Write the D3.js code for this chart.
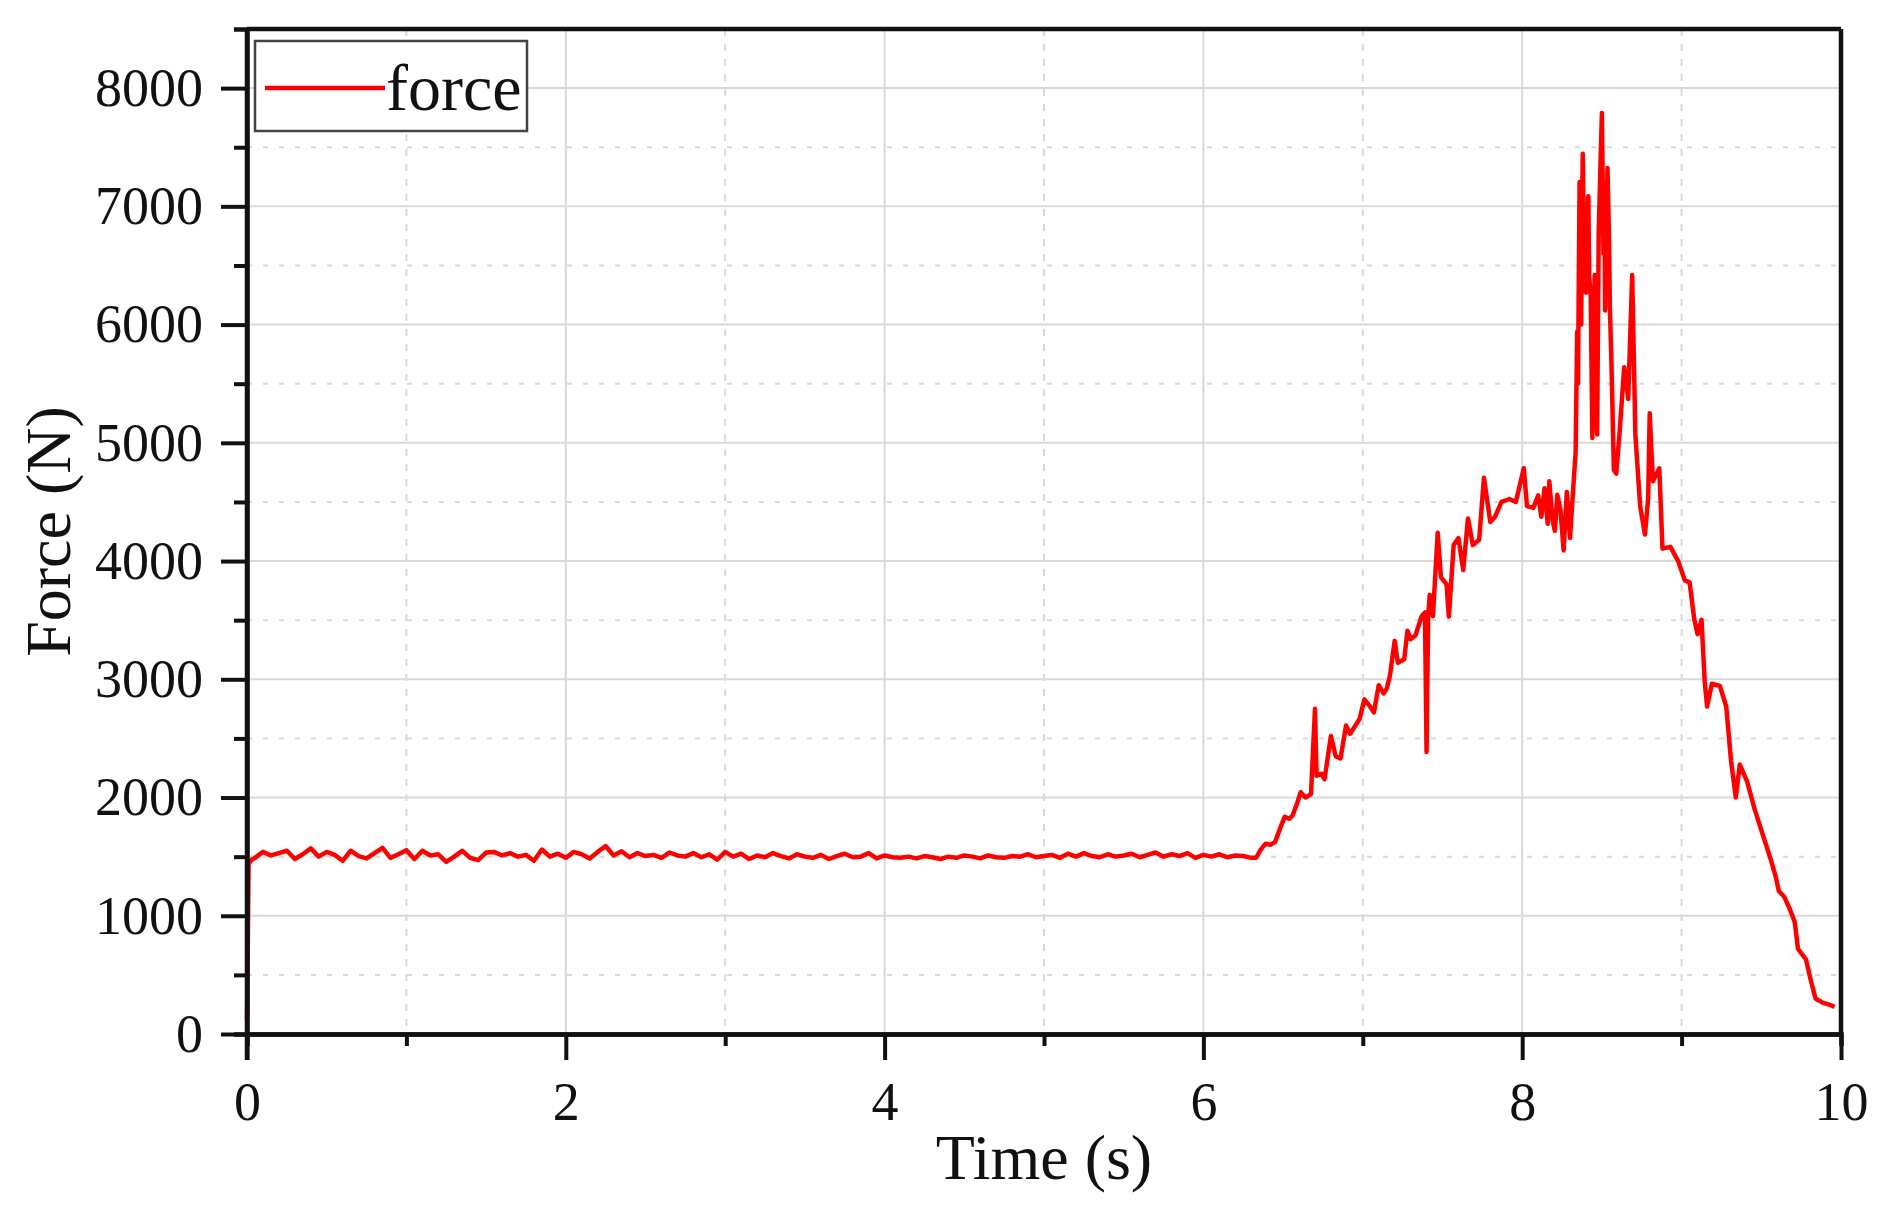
<!DOCTYPE html>
<html>
<head>
<meta charset="utf-8">
<script src="https://cdn.jsdelivr.net/npm/d3@7"></script>
<style>
  body { margin: 0; background: #fff; }
  svg text { font-family: "Liberation Serif", "Times New Roman", serif; fill: #111; }
</style>
</head>
<body>
<svg id="chart" width="1892" height="1214"></svg>
<script>
// time axis / force axis ticks
const xTicks = [0, 2, 4, 6, 8, 10]
const xMinor = [1, 3, 5, 7, 9]
const yTicks = [0, 1000, 2000, 3000, 4000, 5000, 6000, 7000, 8000]
const yMinor = [500, 1500, 2500, 3500, 4500, 5500, 6500, 7500]

// start of the record (t, F)
const startPts = [[0, 120], [0.01, 1440], [0.03, 1475]]

// steady part, one value every 0.05 s from 0.05 s to 6.30 s
const plateauT0 = 0.05
const plateauStep = 0.05
const plateauForce = [
  1490, 1540, 1510, 1530, 1550, 1480, 1520, 1570, 1500, 1540,
  1515, 1465, 1550, 1505, 1485, 1530, 1575, 1490, 1520, 1555,
  1480, 1550, 1510, 1520, 1455, 1500, 1550, 1490, 1470, 1535,
  1540, 1510, 1530, 1500, 1515, 1465, 1560, 1500, 1525, 1490,
  1540, 1520, 1485, 1540, 1590, 1510, 1545, 1495, 1530, 1505,
  1515, 1490, 1535, 1510, 1500, 1530, 1495, 1520, 1475, 1540,
  1500, 1525, 1480, 1510, 1495, 1530, 1505, 1485, 1520, 1500,
  1490, 1515, 1480, 1505, 1525, 1495, 1500, 1530, 1485, 1510,
  1495, 1490, 1500, 1485, 1505, 1495, 1480, 1500, 1490, 1510,
  1500, 1485, 1510, 1495, 1490, 1505, 1500, 1520, 1495, 1505,
  1515, 1490, 1525, 1500, 1530, 1505, 1495, 1520, 1500, 1510,
  1525, 1495, 1515, 1535, 1500, 1520, 1505, 1530, 1490, 1515,
  1500, 1520, 1495, 1510, 1505, 1490
]

// rise, peak and drop (t, F)
const risePts = [
  [6.33, 1490], [6.36, 1560], [6.39, 1610], [6.42, 1600], [6.45, 1625], [6.48, 1735],
  [6.51, 1836], [6.54, 1820], [6.56, 1850], [6.59, 1960], [6.61, 2045], [6.64, 2000],
  [6.675, 2030], [6.70, 2750], [6.71, 2185], [6.74, 2200], [6.76, 2155], [6.80, 2520],
  [6.83, 2350], [6.86, 2330], [6.895, 2610], [6.92, 2540], [6.94, 2580], [6.98, 2665],
  [7.01, 2830], [7.04, 2780], [7.07, 2720], [7.10, 2950], [7.13, 2880], [7.15, 2920],
  [7.17, 3030], [7.20, 3325], [7.22, 3140], [7.26, 3170], [7.28, 3410], [7.30, 3340],
  [7.33, 3370], [7.37, 3535], [7.39, 3565], [7.40, 2385], [7.41, 3535], [7.42, 3714],
  [7.44, 3534], [7.47, 4240], [7.49, 3865], [7.525, 3805], [7.54, 3530], [7.57, 4135],
  [7.60, 4195], [7.63, 3925], [7.66, 4360], [7.69, 4135], [7.73, 4180], [7.76, 4705],
  [7.80, 4330], [7.83, 4375], [7.87, 4500], [7.92, 4525], [7.96, 4500]
]
const peakPts = [
  [8.01, 4785], [8.03, 4465], [8.07, 4450], [8.10, 4555], [8.12, 4375], [8.14, 4615],
  [8.16, 4315], [8.17, 4675], [8.19, 4350], [8.205, 4255], [8.22, 4560], [8.24, 4435],
  [8.26, 4090], [8.28, 4585], [8.30, 4195], [8.32, 4615], [8.335, 4915], [8.345, 5940],
  [8.35, 5500], [8.36, 7205], [8.365, 6300], [8.37, 6000], [8.375, 6900], [8.38, 7445],
  [8.39, 6500], [8.40, 6270], [8.405, 6800], [8.415, 7085], [8.42, 6400], [8.43, 6240],
  [8.44, 5040], [8.445, 5900], [8.455, 6420], [8.46, 5600], [8.47, 5070], [8.48, 6780],
  [8.49, 7300], [8.50, 7790], [8.51, 6600], [8.515, 7100], [8.52, 6120], [8.535, 7325],
  [8.545, 6700], [8.55, 6150], [8.56, 5670], [8.575, 4770], [8.59, 4740], [8.61, 5070],
  [8.64, 5640], [8.665, 5370], [8.69, 6420], [8.71, 5070], [8.74, 4465], [8.77, 4225],
  [8.79, 4525], [8.80, 5250], [8.82, 4675], [8.86, 4785], [8.88, 4105]
]
const dropPts = [
  [8.93, 4120], [8.98, 3995], [9.02, 3837], [9.05, 3820], [9.08, 3504], [9.10, 3382],
  [9.125, 3504], [9.145, 2980], [9.16, 2770], [9.19, 2962], [9.24, 2944], [9.28, 2770],
  [9.31, 2313], [9.34, 2000], [9.365, 2279], [9.41, 2138], [9.46, 1893], [9.51, 1683],
  [9.56, 1473], [9.59, 1333], [9.61, 1210], [9.645, 1158], [9.68, 1053], [9.71, 947],
  [9.73, 720], [9.78, 632], [9.81, 457], [9.84, 300], [9.885, 265], [9.93, 247], [9.96, 230]
]

const plateauPts = plateauForce.map((f, i) => [plateauT0 + i * plateauStep, f])
const data = [...startPts, ...plateauPts, ...risePts, ...peakPts, ...dropPts]

const margin = { left: 247, right: 1892 - 1841, top: 29, bottom: 1214 - 1034 }
const svg = d3.select('#chart')
const W = 1892 - margin.left - margin.right
const H = 1214 - margin.top - margin.bottom

const x = d3.scaleLinear().domain([0, 10]).range([0, W])
const y = d3.scaleLinear().domain([0, 8500]).range([H, 0])

const g = svg.append('g').attr('transform', `translate(${margin.left},${margin.top})`)

// grid
const grid = g.append('g').attr('class', 'grid')
grid.selectAll('.vmaj').data(xTicks.slice(1, -1)).enter().append('line')
    .attr('x1', d => x(d)).attr('x2', d => x(d)).attr('y1', 0).attr('y2', H)
    .attr('stroke', '#d9d9d9').attr('stroke-width', 2)
grid.selectAll('.vmin').data(xMinor).enter().append('line')
    .attr('x1', d => x(d)).attr('x2', d => x(d)).attr('y1', 0).attr('y2', H)
    .attr('stroke', '#d9d9d9').attr('stroke-width', 2).attr('stroke-dasharray', '7,8')
grid.selectAll('.hmaj').data(yTicks.slice(1)).enter().append('line')
    .attr('x1', 0).attr('x2', W).attr('y1', d => y(d)).attr('y2', d => y(d))
    .attr('stroke', '#d9d9d9').attr('stroke-width', 2)
grid.selectAll('.hmin').data(yMinor).enter().append('line')
    .attr('x1', 0).attr('x2', W).attr('y1', d => y(d)).attr('y2', d => y(d))
    .attr('stroke', '#d9d9d9').attr('stroke-width', 2).attr('stroke-dasharray', '5,11')

// force line
const line = d3.line().x(d => x(d[0])).y(d => y(d[1]))
g.append('path').datum(data)
    .attr('d', line)
    .attr('fill', 'none')
    .attr('stroke', '#ff0000')
    .attr('stroke-width', 4.5)
    .attr('stroke-linejoin', 'round')

// frame: top and right
g.append('line').attr('x1', 0).attr('x2', W).attr('y1', 0).attr('y2', 0)
    .attr('stroke', '#111').attr('stroke-width', 4.5)
g.append('line').attr('x1', W).attr('x2', W).attr('y1', 0).attr('y2', H)
    .attr('stroke', '#111').attr('stroke-width', 4.5)

// axes
function styleAxis(sel) {
  sel.select('.domain').attr('stroke', '#111').attr('stroke-width', 4.5)
  sel.selectAll('.tick line').attr('stroke', '#111').attr('stroke-width', 4)
  sel.selectAll('.tick text').attr('font-size', 54).attr('fill', '#111')
}

const xMinorAxis = g.append('g').attr('transform', `translate(0,${H})`)
    .call(d3.axisBottom(x).tickValues(xMinor).tickSize(12).tickFormat(''))
styleAxis(xMinorAxis)
const xAxis = g.append('g').attr('transform', `translate(0,${H})`)
    .call(d3.axisBottom(x).tickValues(xTicks).tickSize(26).tickPadding(22).tickSizeOuter(0))
styleAxis(xAxis)

const yMinorAxis = g.append('g')
    .call(d3.axisLeft(y).tickValues(yMinor).tickSize(13).tickFormat(''))
styleAxis(yMinorAxis)
const yAxis = g.append('g')
    .call(d3.axisLeft(y).tickValues(yTicks).tickSize(26).tickPadding(18).tickSizeOuter(0)
      .tickFormat(d3.format('d')))
styleAxis(yAxis)
yAxis.select('.domain').attr('d', `M0,${H + 26}V0`)

// axis titles
svg.append('text')
    .attr('x', margin.left + W / 2).attr('y', 1179)
    .attr('text-anchor', 'middle').attr('font-size', 64)
    .text('Time (s)')
svg.append('text')
    .attr('transform', `translate(70,${margin.top + H / 2}) rotate(-90)`)
    .attr('text-anchor', 'middle').attr('font-size', 64)
    .text('Force (N)')

// legend
const legend = svg.append('g')
legend.append('rect')
    .attr('x', 255).attr('y', 41).attr('width', 272).attr('height', 90)
    .attr('fill', '#fff').attr('stroke', '#444').attr('stroke-width', 2.5)
legend.append('line')
    .attr('x1', 265).attr('x2', 385).attr('y1', 88).attr('y2', 88)
    .attr('stroke', '#ff0000').attr('stroke-width', 4.5)
legend.append('text')
    .attr('x', 386).attr('y', 110).attr('font-size', 66)
    .text('force')
</script>
</body>
</html>
